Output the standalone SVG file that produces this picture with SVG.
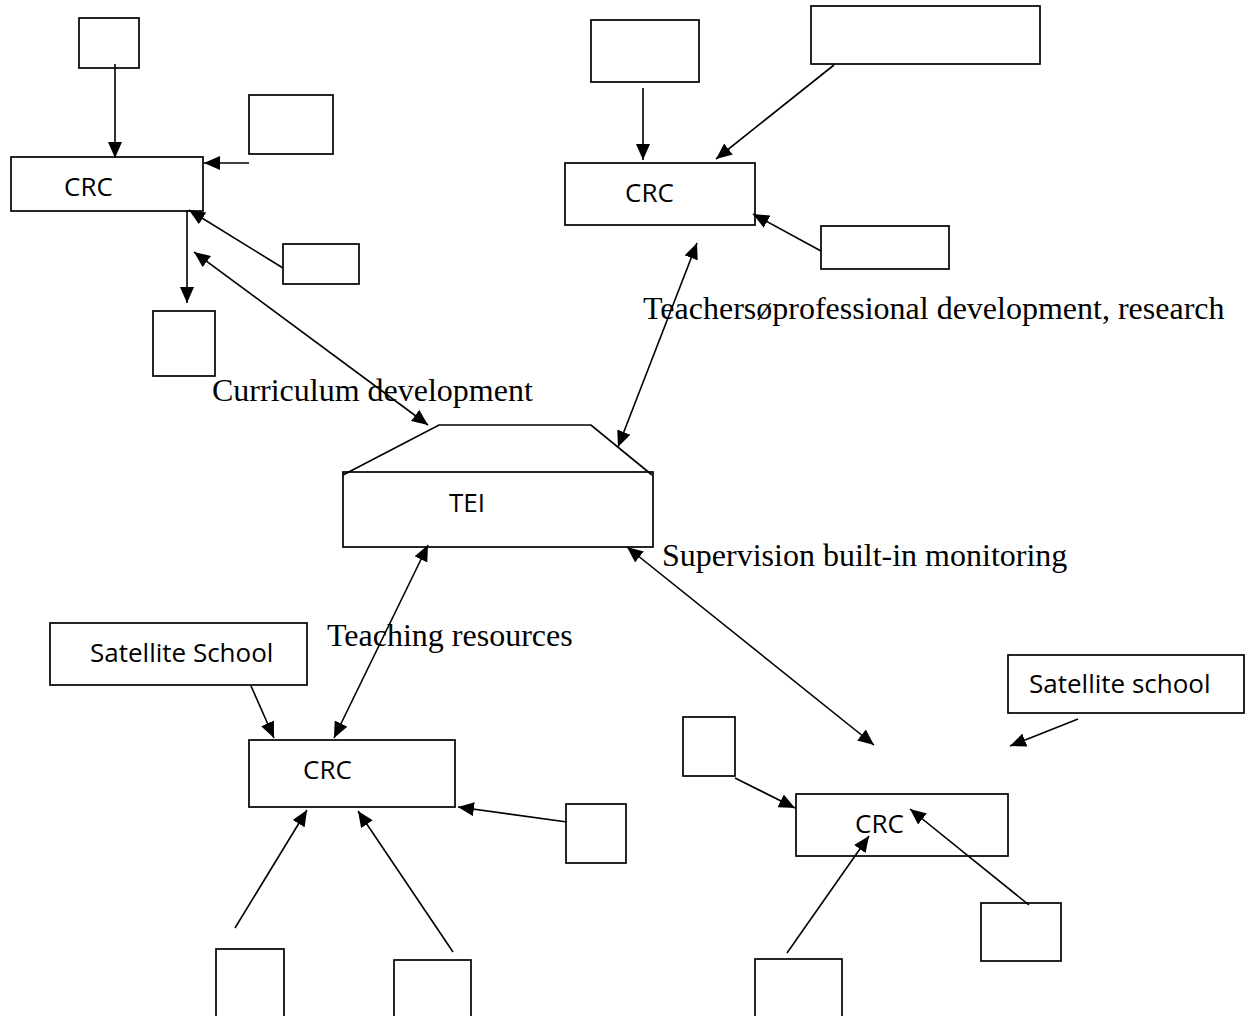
<svg xmlns="http://www.w3.org/2000/svg" width="1248" height="1016" viewBox="0 0 1248 1016">
<style>
.box{fill:#fff;stroke:#000;stroke-width:1.7}
.ln{fill:none;stroke:#000;stroke-width:1.6;marker-end:url(#ah)}
.dbl{marker-start:url(#ah)}
.sans{font-family:"Open Sans","Liberation Sans",sans-serif;font-size:26px;fill:#000}
.serif{font-family:"Liberation Serif","Times New Roman",serif;font-size:32px;fill:#000}
</style>
<defs>
<marker id="ah" markerUnits="userSpaceOnUse" markerWidth="17" markerHeight="14" refX="16" refY="7" orient="auto-start-reverse">
<path d="M0,0 L16,7 L0,14 z" fill="#000"/>
</marker>
</defs>
<rect width="1248" height="1016" fill="#fff"/>

<g id="tl-box1"><rect class="box" x="79" y="18" width="60" height="50"/></g>
<g id="tl-box2"><rect class="box" x="249" y="95" width="84" height="59"/></g>
<g id="tl-crc"><rect class="box" x="11" y="157" width="192" height="54"/><text class="sans" x="64" y="196">CRC</text></g>
<g id="tl-box3"><rect class="box" x="283" y="244" width="76" height="40"/></g>
<g id="tl-box4"><rect class="box" x="153" y="311" width="62" height="65"/></g>

<g id="tr-box1"><rect class="box" x="591" y="20" width="108" height="62"/></g>
<g id="tr-box2"><rect class="box" x="811" y="6" width="229" height="58"/></g>
<g id="tr-crc"><rect class="box" x="565" y="163" width="190" height="62"/><text class="sans" x="625" y="202">CRC</text></g>
<g id="tr-box3"><rect class="box" x="821" y="226" width="128" height="43"/></g>

<g id="tei">
<rect class="box" x="343" y="472" width="310" height="75"/>
<polyline points="343,475 439,425 591,425 652,475" fill="none" stroke="#000" stroke-width="1.7"/>
<text class="sans" x="449" y="512">TEI</text>
</g>

<g id="bl-sat"><rect class="box" x="50" y="623" width="257" height="62"/><text class="sans" x="90" y="662">Satellite School</text></g>
<g id="bl-crc"><rect class="box" x="249" y="740" width="206" height="67"/><text class="sans" x="303" y="779">CRC</text></g>
<g id="bl-box1"><rect class="box" x="566" y="804" width="60" height="59"/></g>
<g id="bl-box2"><rect class="box" x="216" y="949" width="68" height="80"/></g>
<g id="bl-box3"><rect class="box" x="394" y="960" width="77" height="70"/></g>

<g id="br-sat"><rect class="box" x="1008" y="655" width="236" height="58"/><text class="sans" x="1029" y="693">Satellite school</text></g>
<g id="br-box1"><rect class="box" x="683" y="717" width="52" height="59"/></g>
<g id="br-crc"><rect class="box" x="796" y="794" width="212" height="62"/><text class="sans" x="855" y="833">CRC</text></g>
<g id="br-box2"><rect class="box" x="981" y="903" width="80" height="58"/></g>
<g id="br-box3"><rect class="box" x="755" y="959" width="87" height="70"/></g>

<g id="connectors">
<line class="ln" x1="115" y1="64" x2="115" y2="158"/>
<line class="ln" x1="249" y1="163" x2="204" y2="163"/>
<line class="ln" x1="283" y1="268" x2="189" y2="210"/>
<line class="ln" x1="187" y1="210" x2="187" y2="303"/>
<line class="ln dbl" x1="194" y1="252" x2="428" y2="425"/>
<line class="ln" x1="643" y1="88" x2="643" y2="160"/>
<line class="ln" x1="834" y1="65" x2="716" y2="159"/>
<line class="ln" x1="821" y1="251" x2="753" y2="214"/>
<line class="ln dbl" x1="697" y1="243" x2="618" y2="447"/>
<line class="ln dbl" x1="428" y1="545" x2="334" y2="738"/>
<line class="ln dbl" x1="627" y1="547" x2="874" y2="745"/>
<line class="ln" x1="251" y1="686" x2="274" y2="738"/>
<line class="ln" x1="567" y1="822" x2="458" y2="807"/>
<line class="ln" x1="235" y1="928" x2="307" y2="810"/>
<line class="ln" x1="453" y1="952" x2="358" y2="811"/>
<line class="ln" x1="1078" y1="719" x2="1010" y2="746"/>
<line class="ln" x1="735" y1="778" x2="795" y2="808"/>
<line class="ln" x1="787" y1="953" x2="869" y2="836"/>
<line class="ln" x1="1029" y1="905" x2="910" y2="809"/>
</g>

<g id="labels">
<text class="serif" x="643" y="319">Teachersøprofessional development, research</text>
<text class="serif" x="212" y="401">Curriculum development</text>
<text class="serif" x="662" y="566">Supervision built-in monitoring</text>
<text class="serif" x="327" y="646">Teaching resources</text>
</g>
</svg>
